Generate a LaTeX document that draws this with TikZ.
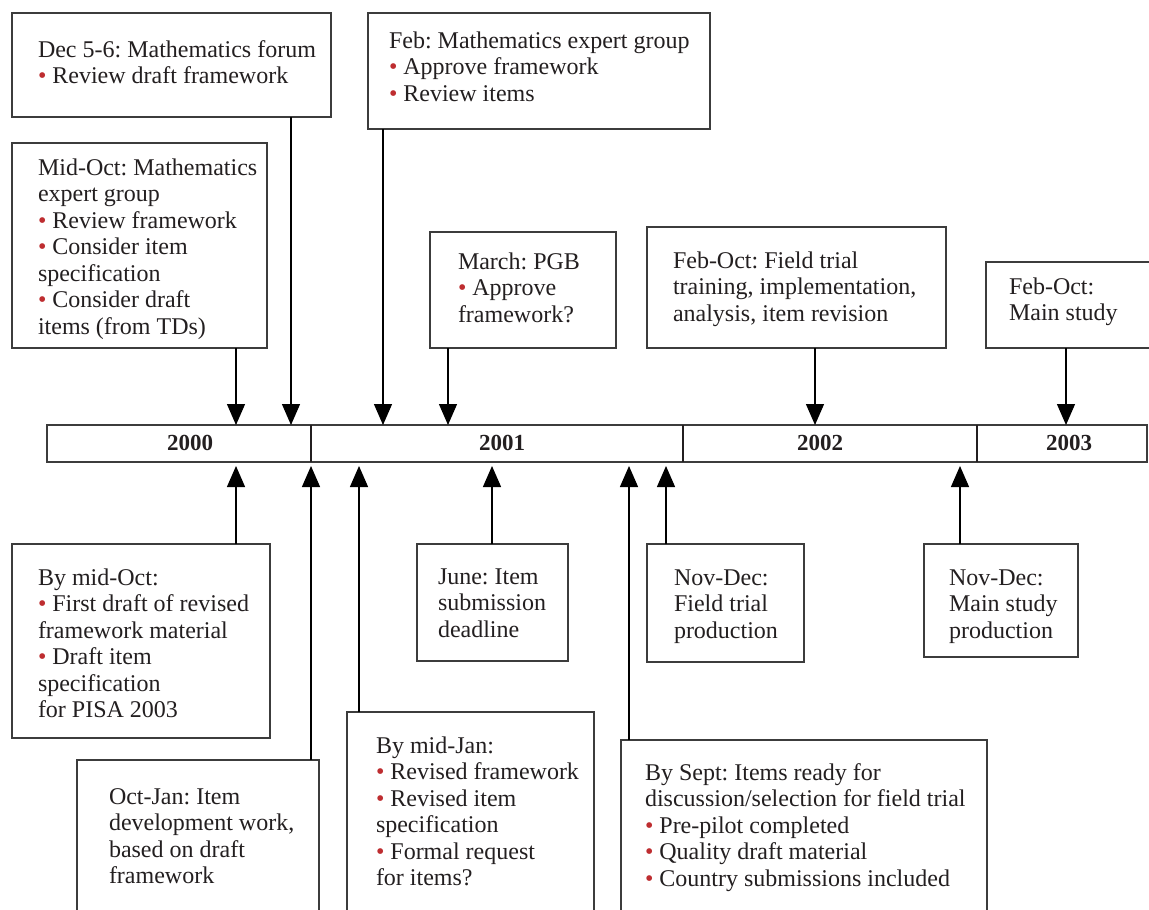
\documentclass[tikz,border=0pt]{standalone}
\usepackage{fontspec}
\setmainfont{Liberation Serif}
\usetikzlibrary{arrows.meta}
\definecolor{bred}{HTML}{BE2D30}
\definecolor{ink}{HTML}{231F20}
\definecolor{edge}{HTML}{3C3C3C}
\newcommand\rbul{{\color{bred}\textbullet}\ }
\frenchspacing
\tikzset{
  box/.style={draw=edge, line width=1.1pt, fill=white, rectangle, inner sep=0pt, outer sep=0pt, anchor=north west},
  txt/.style={anchor=north west, inner sep=0pt, outer sep=0pt, align=left, text=ink,
    font=\fontsize{24}{26.5}\selectfont},
  yr/.style={inner sep=0pt, text=ink, font=\fontsize{23}{26}\selectfont\bfseries},
  conn/.style={line width=1.3pt, -{Triangle[width=18pt,length=21pt]}},
  divider/.style={line width=1.2pt, draw=ink},
}
\begin{document}
\begin{tikzpicture}[x=1pt,y=-1pt]
\useasboundingbox (0,0) rectangle (1149,910);
\clip (0,0) rectangle (1149,910);
\fill[white] (0,0) rectangle (1149,910);

% timeline bar
\node[box, minimum width=1100pt, minimum height=37pt] (bar) at (47,425) {};
\draw[divider] ([xshift=264pt]bar.north west) -- ([xshift=264pt]bar.south west);
\draw[divider] ([xshift=636pt]bar.north west) -- ([xshift=636pt]bar.south west);
\draw[divider] ([xshift=930pt]bar.north west) -- ([xshift=930pt]bar.south west);
\node[yr] (y2000) at (190,443) {2000};
\node[yr] (y2001) at (502,443) {2001};
\node[yr] (y2002) at (820,443) {2002};
\node[yr] (y2003) at (1069,443) {2003};

% ---------- top boxes ----------
\node[box, minimum width=319pt, minimum height=104pt] (dec) at (12,13) {};
\node[txt] (tdec) at (38,57-18.55) {\strut Dec 5-6: Mathematics forum\\\rbul Review draft framework};

\node[box, minimum width=255pt, minimum height=205pt] (midoct) at (12,143) {};
\node[txt] (tmidoct) at (38,175-18.55) {\strut Mid-Oct: Mathematics\\expert group\\\rbul Review framework\\\rbul Consider item\\specification\\\rbul Consider draft\\items (from TDs)};

\node[box, minimum width=342pt, minimum height=116pt] (feb) at (368,13) {};
\node[txt] (tfeb) at (389,48-18.55) {\strut Feb: Mathematics expert group\\\rbul Approve framework\\\rbul Review items};

\node[box, minimum width=186pt, minimum height=116pt] (march) at (430,232) {};
\node[txt] (tmarch) at (458,269-18.55) {\strut March: PGB\\\rbul Approve\\framework?};

\node[box, minimum width=299pt, minimum height=121pt] (field) at (647,227) {};
\node[txt] (tfield) at (673,268-18.55) {\strut Feb-Oct: Field trial\\training, implementation,\\analysis, item revision};

\node[box, minimum width=180pt, minimum height=86pt] (main) at (986,262) {};
\node[txt] (tmain) at (1009,294-18.55) {\strut Feb-Oct:\\Main study};

% ---------- bottom boxes ----------
\node[box, minimum width=258pt, minimum height=194pt] (bymidoct) at (12,544) {};
\node[txt] (tbymidoct) at (38,585-18.55) {\strut By mid-Oct:\\\rbul First draft of revised\\framework material\\\rbul Draft item\\specification\\for PISA 2003};

\node[box, minimum width=242pt, minimum height=170pt] (octjan) at (77,760) {};
\node[txt] (toctjan) at (109,804-18.55) {\strut Oct-Jan: Item\\development work,\\based on draft\\framework};

\node[box, minimum width=247pt, minimum height=220pt] (midjan) at (347,712) {};
\node[txt] (tmidjan) at (376,753-18.55) {\strut By mid-Jan:\\\rbul Revised framework\\\rbul Revised item\\specification\\\rbul Formal request\\for items?};

\node[box, minimum width=151pt, minimum height=117pt] (june) at (417,544) {};
\node[txt] (tjune) at (438,584-18.55) {\strut June: Item\\submission\\deadline};

\node[box, minimum width=366pt, minimum height=190pt] (sept) at (621,740) {};
\node[txt] (tsept) at (645,780-18.55) {\strut By Sept: Items ready for\\discussion/selection for field trial\\\rbul Pre-pilot completed\\\rbul Quality draft material\\\rbul Country submissions included};

\node[box, minimum width=157pt, minimum height=118pt] (novfield) at (647,544) {};
\node[txt] (tnovfield) at (674,585-18.55) {\strut Nov-Dec:\\Field trial\\production};

\node[box, minimum width=154pt, minimum height=113pt] (novmain) at (924,544) {};
\node[txt] (tnovmain) at (949,585-18.55) {\strut Nov-Dec:\\Main study\\production};

% ---------- connector x positions ----------
\coordinate (xa) at (236,0);
\coordinate (xb) at (291,0);
\coordinate (xc) at (383,0);
\coordinate (xd) at (448,0);
\coordinate (xe) at (815,0);
\coordinate (xf) at (1066,0);
\coordinate (xg) at (311,0);
\coordinate (xh) at (359,0);
\coordinate (xi) at (492,0);
\coordinate (xj) at (629,0);
\coordinate (xk) at (666,0);
\coordinate (xl) at (960,0);

% top connectors
\draw[conn] (xa |- midoct.south) -- (xa |- bar.north);
\draw[conn] (xb |- dec.south) -- (xb |- bar.north);
\draw[conn] (xc |- feb.south) -- (xc |- bar.north);
\draw[conn] (xd |- march.south) -- (xd |- bar.north);
\draw[conn] (xe |- field.south) -- (xe |- bar.north);
\draw[conn] (xf |- main.south) -- (xf |- bar.north);

% bottom connectors
\draw[conn, shorten >=4pt] (xa |- bymidoct.north) -- (xa |- bar.south);
\draw[conn, shorten >=4pt] (xg |- octjan.north) -- (xg |- bar.south);
\draw[conn, shorten >=4pt] (xh |- midjan.north) -- (xh |- bar.south);
\draw[conn, shorten >=4pt] (xi |- june.north) -- (xi |- bar.south);
\draw[conn, shorten >=4pt] (xj |- sept.north) -- (xj |- bar.south);
\draw[conn, shorten >=4pt] (xk |- novfield.north) -- (xk |- bar.south);
\draw[conn, shorten >=4pt] (xl |- novmain.north) -- (xl |- bar.south);
\end{tikzpicture}
\end{document}
